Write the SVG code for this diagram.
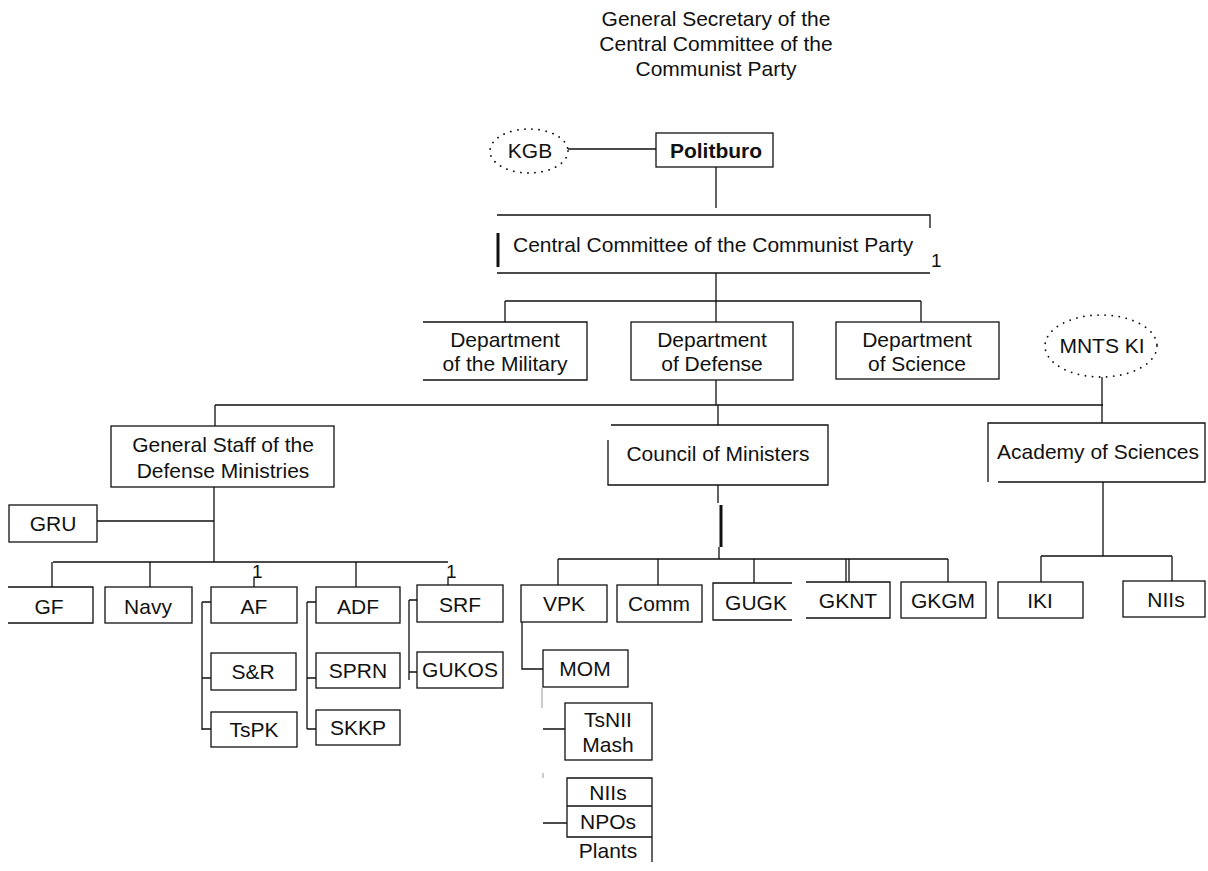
<svg xmlns="http://www.w3.org/2000/svg" width="1208" height="871" viewBox="0 0 1208 871">
<style>
.b{fill:none;stroke:#111;stroke-width:1.3}
.l{fill:none;stroke:#111;stroke-width:1.3}
.k{fill:none;stroke:#111;stroke-width:3}
.f{fill:none;stroke:#999;stroke-width:1}
.d{fill:none;stroke:#111;stroke-width:1.8;stroke-dasharray:0.1 7;stroke-linecap:round}
.t{font-family:"Liberation Sans",Arial,sans-serif;font-size:21px;fill:#111;text-anchor:middle}
.s{text-anchor:start}
.bd{font-weight:bold}
.n{font-family:"Liberation Sans",Arial,sans-serif;font-size:19px;fill:#111}
</style>
<rect width="1208" height="871" fill="#fff"/>
<g id="connectors">
<path class="l" d="M568,149 H656 M716,167 V208 M716,273 V301 M505,301 H921 M505,301 V322 M716,301 V322 M921,301 V322"/>
<path class="l" d="M716,380 V405 M215,405 H1103 M215,405 V426 M718,405 V425 M1102,377 V423"/>
<path class="l" d="M718,485 V503 M719,547 V559"/>
<path class="k" d="M721,505 V547"/>
<path class="l" d="M558,559 H948 M558,559 V585 M658,559 V585 M754,559 V583 M846,559 V582 M849,559 V582 M948,559 V582"/>
<path class="l" d="M1103,482 V556 M1041,556 H1172 M1041,556 V582 M1172,556 V581"/>
<path class="l" d="M214,487 V562 M97,521 H214 M53,562 H448 M52,562 V587 M150,562 V587 M254,578 V587 M356,562 V587 M448,578 V585"/>
<path class="l" d="M202,602 V730 M202,602 H211 M202,678 H211 M202,729 H211"/>
<path class="l" d="M307,602 V729 M307,602 H316 M307,678 H316 M307,729 H316"/>
<path class="l" d="M409,600 V680 M409,600 H417 M409,672 H417"/>
<path class="l" d="M522,622 V669 H543 M543,729 H565 M543,823 H567"/>
<path class="f" d="M542,688 V708 M543,773 V778"/>
</g>
<g id="title">
<text class="t" x="716" y="26">General Secretary of the</text>
<text class="t" x="716" y="51">Central Committee of the</text>
<text class="t" x="716" y="76">Communist Party</text>
</g>
<g id="kgb"><ellipse class="d" cx="529" cy="151" rx="39" ry="22"/><text class="t" x="530" y="158">KGB</text></g>
<g id="politburo"><rect class="b" x="656" y="133" width="117" height="34"/><text class="t bd" x="716" y="158">Politburo</text></g>
<g id="central-committee"><path class="b" d="M497,215 H930 V228 M497,273 H930"/><path class="k" d="M498,233 V267"/><text class="t s" x="513" y="252">Central Committee of the Communist Party</text><text class="n" x="931" y="267">1</text></g>
<g id="dept-military"><path class="b" d="M423,322 H587 V380 H423"/><text class="t" x="505" y="347">Department</text><text class="t" x="505" y="371">of the Military</text></g>
<g id="dept-defense"><rect class="b" x="631" y="322" width="162" height="58"/><text class="t" x="712" y="347">Department</text><text class="t" x="712" y="371">of Defense</text></g>
<g id="dept-science"><rect class="b" x="836" y="322" width="163" height="57"/><text class="t" x="917" y="347">Department</text><text class="t" x="917" y="371">of Science</text></g>
<g id="mnts-ki"><ellipse class="d" cx="1101" cy="346" rx="56" ry="31"/><text class="t" x="1102" y="353">MNTS KI</text></g>
<g id="general-staff"><rect class="b" x="111" y="426" width="223" height="61"/><text class="t" x="223" y="452">General Staff of the</text><text class="t" x="223" y="478">Defense Ministries</text></g>
<g id="council"><path class="b" d="M611,425 H828 V485 H608 V440"/><text class="t" x="718" y="461">Council of Ministers</text></g>
<g id="academy"><path class="b" d="M988,482 V423 H1205 V482 H998"/><text class="t" x="1098" y="459">Academy of Sciences</text></g>
<g id="gru"><rect class="b" x="9" y="505" width="88" height="37"/><text class="t" x="53" y="531">GRU</text></g>
<g id="gf"><path class="b" d="M8,587 H93 V623 H8"/><text class="t" x="49" y="614">GF</text></g>
<g id="navy"><rect class="b" x="105" y="587" width="87" height="36"/><text class="t" x="148" y="614">Navy</text></g>
<g id="labels"><text class="n" x="252" y="578">1</text><text class="n" x="446" y="578">1</text></g>
<g id="af"><rect class="b" x="211" y="587" width="86" height="36"/><text class="t" x="254" y="614">AF</text></g>
<g id="adf"><rect class="b" x="316" y="587" width="84" height="36"/><text class="t" x="358" y="614">ADF</text></g>
<g id="srf"><rect class="b" x="417" y="585" width="86" height="37"/><text class="t" x="460" y="612">SRF</text></g>
<g id="s-r"><rect class="b" x="211" y="653" width="85" height="37"/><text class="t" x="253" y="679">S&amp;R</text></g>
<g id="tspk"><rect class="b" x="211" y="712" width="86" height="35"/><text class="t" x="254" y="737">TsPK</text></g>
<g id="sprn"><rect class="b" x="316" y="653" width="84" height="35"/><text class="t" x="358" y="678">SPRN</text></g>
<g id="skkp"><rect class="b" x="316" y="710" width="84" height="35"/><text class="t" x="358" y="735">SKKP</text></g>
<g id="gukos"><rect class="b" x="417" y="652" width="86" height="36"/><text class="t" x="460" y="677">GUKOS</text></g>
<g id="vpk"><rect class="b" x="521" y="585" width="86" height="37"/><text class="t" x="564" y="611">VPK</text></g>
<g id="comm"><rect class="b" x="617" y="585" width="85" height="37"/><text class="t" x="659" y="611">Comm</text></g>
<g id="gugk"><path class="b" d="M792,583 H713 V620 H792"/><text class="t" x="756" y="610">GUGK</text></g>
<g id="gknt"><path class="b" d="M806,582 H890 V618 H806"/><text class="t" x="848" y="608">GKNT</text></g>
<g id="gkgm"><rect class="b" x="901" y="582" width="85" height="36"/><text class="t" x="943" y="608">GKGM</text></g>
<g id="iki"><rect class="b" x="998" y="582" width="85" height="36"/><text class="t" x="1040" y="608">IKI</text></g>
<g id="niis-academy"><rect class="b" x="1123" y="581" width="82" height="36"/><text class="t" x="1166" y="607">NIIs</text></g>
<g id="mom"><rect class="b" x="543" y="650" width="85" height="37"/><text class="t" x="585" y="676">MOM</text></g>
<g id="tsnii-mash"><rect class="b" x="565" y="703" width="87" height="57"/><text class="t" x="608" y="727">TsNII</text><text class="t" x="608" y="752">Mash</text></g>
<g id="niis-npos-plants"><path class="b" d="M652,862 V778 H567 V837 H652 M567,806 H652"/><text class="t" x="608" y="800">NIIs</text><text class="t" x="608" y="829">NPOs</text><text class="t" x="608" y="858">Plants</text></g>
</svg>
